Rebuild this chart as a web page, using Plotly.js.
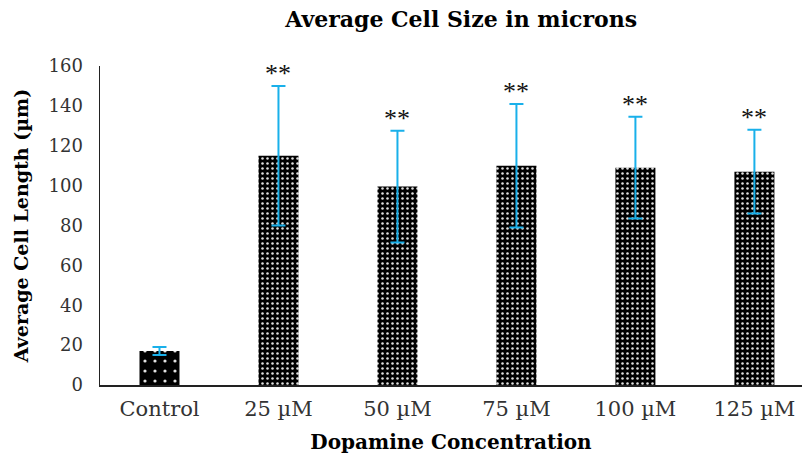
<!DOCTYPE html>
<html>
<head>
<meta charset="utf-8">
<script src="https://cdn.plot.ly/plotly-3.0.1.min.js"></script>
<style>html,body{margin:0;padding:0;background:#fff}#chart{width:802px;height:459px}</style>
</head>
<body>
<div id="chart"></div>
<script>
const categories = ["Control", "25 µM", "50 µM", "75 µM", "100 µM", "125 µM"];
const means = [17, 115, 99.5, 110, 109, 107];
const errors = [2, 35, 28, 31, 25.5, 21];
const significance = ["", "**", "**", "**", "**", "**"];
const yTicks = [0, 20, 40, 60, 80, 100, 120, 140, 160];

const serif = "DejaVu Serif, Liberation Serif, serif";

const trace = {
  type: "bar",
  x: categories,
  y: means,
  marker: {
    color: "black",
    line: {width: 0},
    pattern: {
      shape: ".",
      fgcolor: "#e0e0e0",
      bgcolor: "black",
      size: categories.map((c, i) => i === 0 ? 10 : 5),
      solidity: categories.map((c, i) => i === 0 ? 0.08 : 0.2),
      fillmode: "replace"
    }
  },
  error_y: {type: "data", array: errors, visible: true, color: "#19b0ea", thickness: 2, width: 7},
  hoverinfo: "none"
};

const annotations = categories.map((c, i) => ({
  x: c, y: means[i] + errors[i], xref: "x", yref: "y",
  text: significance[i], showarrow: false, yanchor: "bottom", yshift: -4,
  font: {family: "Liberation Serif, serif", size: 26, color: "#111"}
})).filter(a => a.text);

const layout = {
  width: 802, height: 459,
  margin: {l: 100, r: 0, t: 66, b: 74},
  paper_bgcolor: "white", plot_bgcolor: "white",
  bargap: 0.664,
  showlegend: false,
  title: {text: "<b>Average Cell Size in microns</b>", x: 0.575, xanchor: "center", y: 0.975, yanchor: "top",
          font: {family: serif, size: 22, color: "#000"}},
  xaxis: {
    range: [-0.5, 5.4],
    showline: true, linecolor: "#222", linewidth: 1.5, ticks: "", showgrid: false, automargin: false,
    tickfont: {family: serif, size: 21, color: "#333"}, ticklabelstandoff: 4,
    title: {text: "<b>Dopamine Concentration</b>", font: {family: serif, size: 20, color: "#000"}, standoff: 15}
  },
  yaxis: {
    range: [0, 160], tickvals: yTicks, showline: true, linecolor: "#222", linewidth: 1.5, automargin: false,
    ticks: "", showgrid: false, zeroline: false, ticklabelstandoff: 12,
    tickfont: {family: serif, size: 18, color: "#333"},
    title: {text: "<b>Average Cell Length (µm)</b>", font: {family: serif, size: 19, color: "#000"}, standoff: 15}
  },
  annotations: annotations
};

Plotly.newPlot("chart", [trace], layout, {displayModeBar: false, staticPlot: true});
</script>
</body>
</html>
